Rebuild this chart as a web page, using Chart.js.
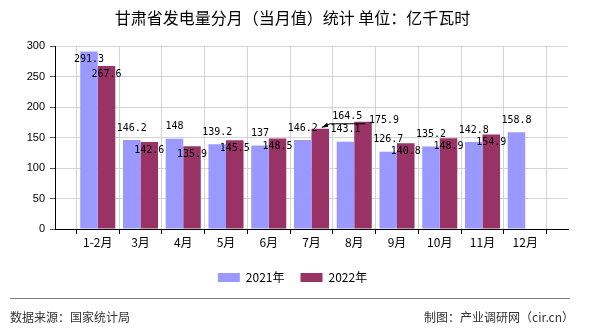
<!DOCTYPE html>
<html>
<head>
<meta charset="utf-8">
<script src="https://cdn.jsdelivr.net/npm/chart.js@4"></script>
<style>
  html, body { margin: 0; padding: 0; background: #fff; }
  #wrap { width: 590px; height: 330px; }
</style>
</head>
<body>
<div id="wrap"><canvas id="graph-section" width="590" height="330"></canvas></div>
<script>
const ctx = document.getElementById("graph-section").getContext("2d");

let months = ["1-2月", "3月", "4月", "5月", "6月", "7月", "8月", "9月", "10月", "11月", "12月"];
let values2021 = [291.3, 146.2, 148, 139.2, 137, 146.2, 143.1, 126.7, 135.2, 142.8, 158.8];
let values2022 = [267.6, 142.6, 135.9, 145.5, 148.5, 164.5, 175.9, 140.8, 148.9, 154.9, null];
let yTicks = [0, 50, 100, 150, 200, 250, 300];

// empty slot at each end so the ticks sit between slots like the original
let labels = [""].concat(months, [""]);
const pad = (arr) => [null].concat(arr, [null]);

// a couple of labels were moved by hand in the original to avoid overlaps
const labelNudge = {
  "1:6": { dx: 27, dy: -12, leader: true },
  "1:7": { dx: 21, dy: -1 },
};

const valueLabels = {
  id: "valueLabels",
  afterDatasetsDraw(chart) {
    const c = chart.ctx;
    const area = chart.chartArea;
    c.save();
    c.font = "10px 'DejaVu Sans Mono'";
    c.fillStyle = "#000";
    c.textAlign = "center";
    c.textBaseline = "middle";
    chart.data.datasets.forEach((ds, di) => {
      const meta = chart.getDatasetMeta(di);
      meta.data.forEach((bar, i) => {
        const v = ds.data[i];
        if (v === null || v === undefined) return;
        let x = bar.x;
        let y;
        if (di === 0) {
          y = bar.y - 12;
          if (y - 5 < area.top) y = bar.y + 8;
        } else {
          y = bar.y + 8;
        }
        const n = labelNudge[di + ":" + i];
        if (n) {
          x = bar.x + n.dx;
          y = bar.y + n.dy;
          if (n.leader) {
            c.strokeStyle = "#000";
            c.lineWidth = 1;
            c.beginPath();
            c.moveTo(bar.x + 10, bar.y - 5);
            c.lineTo(bar.x + 45, bar.y - 5);
            c.moveTo(bar.x + 10, bar.y - 5);
            c.lineTo(bar.x + 2, bar.y - 1.5);
            c.stroke();
            c.beginPath();
            c.moveTo(bar.x + 1, bar.y - 1);
            c.lineTo(bar.x + 7, bar.y - 6);
            c.lineTo(bar.x + 8, bar.y - 2);
            c.closePath();
            c.fill();
          }
        }
        c.fillText(String(v), x, y);
      });
    });
    c.restore();
  },
};

const footer = {
  id: "footer",
  afterDraw(chart) {
    const c = chart.ctx;
    c.save();
    c.strokeStyle = "#808080";
    c.lineWidth = 1;
    c.beginPath();
    c.moveTo(10, 298.5);
    c.lineTo(570, 298.5);
    c.stroke();
    c.font = "12px 'Noto Sans CJK SC'";
    c.fillStyle = "#333";
    c.textBaseline = "middle";
    c.textAlign = "left";
    c.fillText("数据来源：国家统计局", 10, 317);
    c.textAlign = "right";
    c.fillText("制图：产业调研网（cir.cn）", 574, 317);
    c.restore();
  },
};

let data = {
  labels: labels,
  datasets: [
    {
      label: "2021年",
      data: pad(values2021),
      backgroundColor: "#9999FF",
      categoryPercentage: 0.82,
      barPercentage: 1.0,
    },
    {
      label: "2022年",
      data: pad(values2022),
      backgroundColor: "#993366",
      categoryPercentage: 0.82,
      barPercentage: 1.0,
    },
  ],
};

let config = {
  type: "bar",
  data: data,
  plugins: [valueLabels, footer],
  options: {
    responsive: false,
    animation: false,
    layout: { padding: { left: 0, right: 5, top: 0, bottom: 36.5 } },
    plugins: {
      title: {
        display: true,
        text: "甘肃省发电量分月（当月值）统计 单位：亿千瓦时",
        color: "#000",
        font: { family: "'Noto Sans CJK SC'", size: 16, weight: "normal" },
        padding: { top: 8, bottom: 19 },
      },
      legend: {
        position: "bottom",
        labels: {
          boxWidth: 22,
          boxHeight: 9,
          padding: 16,
          color: "#000",
          font: { family: "'Noto Sans CJK SC'", size: 12 },
        },
      },
      tooltip: { enabled: false },
    },
    scales: {
      x: {
        offset: false,
        grid: { color: "#d3d3d3", tickColor: "#000", tickLength: 5 },
        border: { color: "#000" },
        ticks: {
          autoSkip: false,
          maxRotation: 0,
          padding: 1,
          color: "#000",
          font: { family: "'Noto Sans CJK SC'", size: 12 },
        },
        afterFit: (scale) => {
          scale.height = 26.5;
          scale.paddingRight = 22;
        },
      },
      y: {
        min: 0,
        max: 300,
        afterBuildTicks: (scale) => { scale.ticks = yTicks.map((v) => ({ value: v })); },
        grid: { color: "#d3d3d3", tickColor: "#555", tickLength: 5 },
        border: { color: "#000" },
        ticks: {
          padding: 5,
          color: "#000",
          font: { family: "'Liberation Sans'", size: 11 },
        },
        afterFit: (scale) => { scale.width = 55; },
      },
    },
  },
};

let myChart = new Chart(ctx, config);
</script>
</body>
</html>
